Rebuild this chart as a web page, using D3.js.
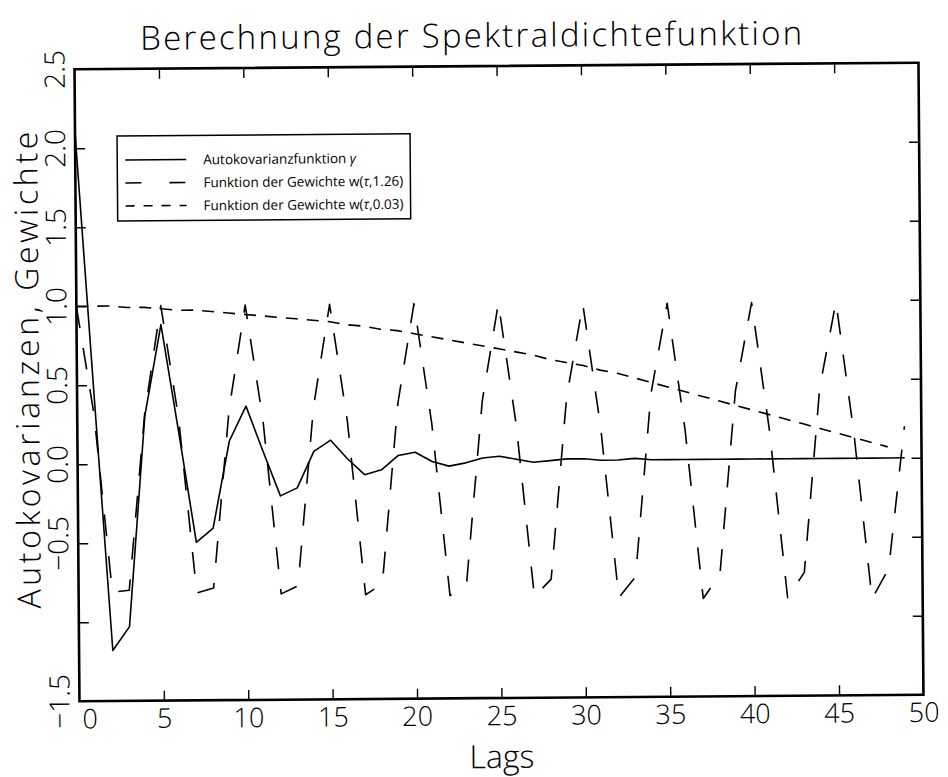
<!DOCTYPE html>
<html lang="de">
<head>
<meta charset="utf-8" />
<style>
body { margin: 0; background: #fff; }
svg { display: block; }
.txt { font-family: "Open Sans", "DejaVu Sans", sans-serif; font-weight: 300; fill: #000; }
.axis path { display: none; }
.axis line { stroke: #000; stroke-width: 1.4px; }
.frame { fill: none; stroke: #000; stroke-width: 2.6px; }
.series { fill: none; stroke: #000; stroke-width: 1.6px; stroke-linejoin: round; }
</style>
</head>
<body>
<script src="https://cdn.jsdelivr.net/npm/d3@7"></script>
<script>
// lags 0..49
var lags = d3.range(0, 50);

// Autokovarianzfunktion gamma
var gamma = [2.10, 0.45, -1.18, -1.03, 0.30, 0.88, 0.20, -0.50, -0.41, 0.14,
             0.36, 0.07, -0.21, -0.16, 0.07, 0.14, 0.02, -0.08, -0.05, 0.04,
             0.06, 0.00, -0.03, -0.01, 0.02, 0.03, 0.01, -0.01, 0.00, 0.01,
             0.01, 0.00, 0.00, 0.01, 0.00, 0.00, 0.00, 0.00, 0.00, 0.00,
             0.00, 0.00, 0.00, 0.00, 0.00, 0.00, 0.00, 0.00, 0.00, 0.00];

// Gewichte w(tau, 1.26)
var w126 = [1.00, 0.31, -0.81, -0.80, 0.32, 1.00, 0.29, -0.82, -0.79, 0.34,
            1.00, 0.27, -0.83, -0.78, 0.35, 1.00, 0.26, -0.84, -0.77, 0.37,
            1.00, 0.24, -0.85, -0.76, 0.38, 1.00, 0.23, -0.86, -0.75, 0.40,
            0.99, 0.21, -0.87, -0.74, 0.42, 0.99, 0.19, -0.88, -0.73, 0.43,
            0.99, 0.18, -0.88, -0.72, 0.45, 0.99, 0.16, -0.89, -0.70, 0.20];

// Gewichte w(tau, 0.03)
var w003 = [1.00, 1.00, 1.00, 0.99, 0.99, 0.98, 0.97, 0.97, 0.96, 0.95,
            0.94, 0.93, 0.92, 0.91, 0.90, 0.89, 0.87, 0.86, 0.84, 0.83,
            0.81, 0.79, 0.77, 0.75, 0.73, 0.71, 0.69, 0.67, 0.64, 0.62,
            0.60, 0.57, 0.55, 0.52, 0.49, 0.46, 0.43, 0.40, 0.37, 0.34,
            0.31, 0.28, 0.25, 0.22, 0.19, 0.16, 0.13, 0.10, 0.07];

var xTicks = [0, 5, 10, 15, 20, 25, 30, 35, 40, 45, 50];
var yTicks = [-1.5, -1.0, -0.5, 0.0, 0.5, 1.0, 1.5, 2.0, 2.5];
var legendLabels = [
  ["Autokovarianzfunktion ", "\u03b3", ""],
  ["Funktion der Gewichte w(", "\u03c4", ",1.26)"],
  ["Funktion der Gewichte w(", "\u03c4", ",0.03)"]
];
var dashes = [null, "22,20", "12,9"];

var width = 948, height = 777;
var L = 77, R = 921, T = 66, B = 698;

var x = d3.scaleLinear().domain([0, 50]).range([L, R]);
var y = d3.scaleLinear().domain([-1.5, 2.5]).range([B, T]);

var svg = d3.select("body").append("svg")
    .attr("width", width)
    .attr("height", height);

// the scanned original is a touch tilted
var g = svg.append("g").attr("transform", "rotate(-0.45,499,385)");

g.append("text").attr("class", "txt")
    .attr("x", 143).attr("y", 47)
    .attr("textLength", 662).attr("lengthAdjust", "spacing")
    .style("font-size", "33px")
    .text("Berechnung der Spektraldichtefunktion");

// inward ticks on all four sides
var inner = [5, 10, 15, 20, 25, 30, 35, 40, 45];
var innerY = [-1.0, -0.5, 0.0, 0.5, 1.0, 1.5, 2.0];
g.append("g").attr("class", "axis").attr("transform", "translate(0," + B + ")")
    .call(d3.axisBottom(x).tickValues(inner).tickSize(-10).tickFormat(""));
g.append("g").attr("class", "axis").attr("transform", "translate(0," + T + ")")
    .call(d3.axisTop(x).tickValues(inner).tickSize(-10).tickFormat(""));
g.append("g").attr("class", "axis").attr("transform", "translate(" + L + ",0)")
    .call(d3.axisLeft(y).tickValues(innerY).tickSize(-10).tickFormat(""));
g.append("g").attr("class", "axis").attr("transform", "translate(" + R + ",0)")
    .call(d3.axisRight(y).tickValues(innerY).tickSize(-10).tickFormat(""));

// tick labels
var xl = g.append("g").attr("class", "axis").attr("transform", "translate(0," + B + ")")
    .call(d3.axisBottom(x).tickValues(xTicks).tickSize(0).tickPadding(8).tickFormat(d3.format("d")));
xl.selectAll("text").attr("class", "txt").style("font-size", "27px")
    .attr("dx", function (d) { return d === 0 ? 10 : 0; });

var fmt = d3.format(".1f");
var yl = g.append("g").attr("class", "axis").attr("transform", "translate(" + L + ",0)")
    .call(d3.axisLeft(y).tickValues(yTicks).tickSize(0)
        .tickFormat(function (d) { return d === -1 ? "" : fmt(d); }));
yl.selectAll(".tick").attr("transform", null);
yl.selectAll("text").attr("class", "txt").style("font-size", "28px")
    .attr("x", null).attr("y", null).attr("dy", null)
    .attr("text-anchor", "middle")
    .attr("transform", function (d) { return "translate(-10," + y(d) + ") rotate(-90)"; });

g.append("text").attr("class", "txt")
    .attr("x", 499).attr("y", 768)
    .attr("text-anchor", "middle")
    .style("font-size", "32px")
    .text("Lags");

g.append("text").attr("class", "txt")
    .attr("transform", "translate(39,605) rotate(-90)")
    .attr("textLength", 477).attr("lengthAdjust", "spacing")
    .style("font-size", "32px")
    .text("Autokovarianzen, Gewichte");

var line = d3.line()
    .x(function (d, i) { return x(lags[i]); })
    .y(function (d) { return y(d); });

[gamma, w126, w003].forEach(function (s, k) {
  g.append("path").attr("class", "series")
      .attr("d", line(s))
      .style("stroke-dasharray", dashes[k]);
});

g.append("rect").attr("class", "frame")
    .attr("x", L).attr("y", T)
    .attr("width", R - L).attr("height", B - T);

// legend
var lg = g.append("g").attr("transform", "translate(119,133)");
lg.append("rect").attr("width", 293).attr("height", 85)
    .attr("fill", "#fff").attr("stroke", "#000").attr("stroke-width", 1.5);
legendLabels.forEach(function (lab, k) {
  var yy = 24 + k * 23;
  lg.append("line").attr("class", "series")
      .attr("x1", 8).attr("x2", 69).attr("y1", yy).attr("y2", yy)
      .style("stroke-dasharray", k === 1 ? "16,28" : (k === 2 ? "9,9" : null));
  var t = lg.append("text").attr("class", "txt")
      .attr("x", 86).attr("y", yy + 5)
      .style("font-size", "13.5px").style("font-weight", 400);
  t.append("tspan").text(lab[0]);
  t.append("tspan").style("font-style", "italic").text(lab[1]);
  t.append("tspan").text(lab[2]);
});
</script>
</body>
</html>
